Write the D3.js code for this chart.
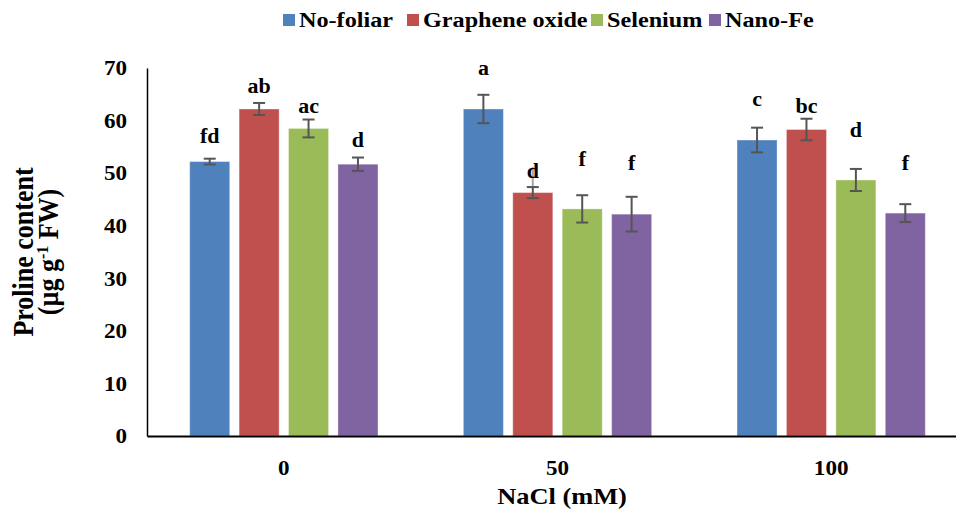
<!DOCTYPE html>
<html>
<head>
<meta charset="utf-8">
<script src="https://cdn.jsdelivr.net/npm/d3@7"></script>
<style>
  html, body { margin: 0; padding: 0; background: #fff; }
  svg { display: block; font-family: "Liberation Serif", "Times New Roman", serif; font-weight: bold; }
</style>
</head>
<body>
<svg id="chart" width="956" height="509"></svg>
<script>
// NaCl levels (mM) on the x axis
const groups = ["0", "50", "100"];
const seriesNames = ["No-foliar", "Graphene oxide", "Selenium", "Nano-Fe"];

// Proline content (µg g-1 FW), one array per foliar treatment
const noFoliar      = [52.2, 62.2, 56.3];
const grapheneOxide = [62.2, 46.3, 58.3];
const selenium      = [58.5, 43.2, 48.7];
const nanoFe        = [51.7, 42.2, 42.4];

// Standard errors
const noFoliarErr      = [0.55, 2.7, 2.35];
const grapheneOxideErr = [1.15, 1.05, 2.05];
const seleniumErr      = [1.7, 2.6, 2.1];
const nanoFeErr        = [1.27, 3.3, 1.7];

// Significance letters
const noFoliarLetters      = ["fd", "a", "c"];
const grapheneOxideLetters = ["ab", "d", "bc"];
const seleniumLetters      = ["ac", "f", "d"];
const nanoFeLetters        = ["d", "f", "f"];

// A stray faint whisker on the graphene oxide bar at 50 mM
const grapheneOxideFaintTop = [null, 51.2, null];

const yTicks = [0, 10, 20, 30, 40, 50, 60, 70];

const seriesData = [
  { name: seriesNames[0], values: noFoliar,      err: noFoliarErr,      letters: noFoliarLetters,      faint: [null, null, null] },
  { name: seriesNames[1], values: grapheneOxide, err: grapheneOxideErr, letters: grapheneOxideLetters, faint: grapheneOxideFaintTop },
  { name: seriesNames[2], values: selenium,      err: seleniumErr,      letters: seleniumLetters,      faint: [null, null, null] },
  { name: seriesNames[3], values: nanoFe,        err: nanoFeErr,        letters: nanoFeLetters,        faint: [null, null, null] }
];

// ---- layout & style ----
const colors = { "No-foliar": "#4F81BD", "Graphene oxide": "#C0504D", "Selenium": "#9BBB59", "Nano-Fe": "#8064A2" };
// letter lift above the error bar top, px
const letterLift = {
  "No-foliar": [16, 20, 22],
  "Graphene oxide": [10, 9, 6],
  "Selenium": [7, 29, 32],
  "Nano-Fe": [11, 27, 34]
};
const SX = 1.1; // slightly widened lettering

const svg = d3.select("#chart");
const plot = { left: 147, right: 968, top: 68, bottom: 436 };

function label(parent, x, y, str, size, anchor) {
  return parent.append("text")
    .attr("transform", `translate(${x},${y}) scale(${SX},1)`)
    .attr("text-anchor", anchor || "start")
    .attr("font-size", size)
    .attr("fill", "#000")
    .text(str);
}

const x0 = d3.scaleBand().domain(groups).range([plot.left, plot.right])
  .paddingInner(0.312).paddingOuter(0.156);
const x1 = d3.scaleBand().domain(seriesNames).range([0, x0.bandwidth()]).paddingInner(0.19);
const y = d3.scaleLinear().domain([0, 70]).range([plot.bottom, plot.top]);

// bars
seriesData.forEach(s => {
  groups.forEach((g, i) => {
    const bx = x0(g) + x1(s.name);
    const v = s.values[i];
    svg.append("rect")
      .attr("x", bx).attr("y", y(v))
      .attr("width", x1.bandwidth()).attr("height", y(0) - y(v))
      .attr("fill", colors[s.name])
      .attr("stroke", "#ffffff").attr("stroke-opacity", 0.35).attr("stroke-width", 1);
  });
});

// error bars and letters
const cap = 6;
seriesData.forEach(s => {
  groups.forEach((g, i) => {
    const cx = x0(g) + x1(s.name) + x1.bandwidth() / 2;
    const v = s.values[i], e = s.err[i];
    if (s.faint[i] != null) {
      svg.append("line")
        .attr("x1", cx).attr("x2", cx)
        .attr("y1", y(s.faint[i])).attr("y2", y(v + e))
        .attr("stroke", "#a6a6a6").attr("stroke-width", 2);
    }
    const eb = svg.append("g").attr("stroke", "#555555").attr("stroke-width", 2);
    eb.append("line").attr("x1", cx).attr("x2", cx).attr("y1", y(v + e)).attr("y2", y(v - e));
    eb.append("line").attr("x1", cx - cap).attr("x2", cx + cap).attr("y1", y(v + e)).attr("y2", y(v + e));
    eb.append("line").attr("x1", cx - cap).attr("x2", cx + cap).attr("y1", y(v - e)).attr("y2", y(v - e));
    label(svg, cx, y(v + e) - letterLift[s.name][i], s.letters[i], 20, "middle");
  });
});

// y axis
const yAxis = d3.axisLeft(y).tickValues(yTicks).tickSize(0).tickPadding(18.2).tickFormat(d3.format("d"));
const gy = svg.append("g").attr("transform", `translate(${plot.left},0)`).call(yAxis);
gy.select(".domain").attr("stroke", "#000").attr("stroke-width", 1.5);
gy.selectAll("text")
  .attr("font-size", 21).attr("font-family", "Liberation Serif").attr("font-weight", "bold").attr("fill", "#000")
  .attr("transform", `scale(${SX},1)`);

// x axis
const xAxis = d3.axisBottom(x0).tickSize(0).tickPadding(24);
const gx = svg.append("g").attr("transform", `translate(0,${plot.bottom})`).call(xAxis);
gx.select(".domain").attr("stroke", "#000").attr("stroke-width", 2);
gx.selectAll("text")
  .attr("font-size", 21).attr("font-family", "Liberation Serif").attr("font-weight", "bold").attr("fill", "#000")
  .attr("transform", `scale(${SX},1)`);

// axis titles
label(svg, 562, 504, "NaCl (mM)", 24, "middle");

const yTitle = svg.append("text")
  .attr("transform", `translate(33,${(plot.top + plot.bottom) / 2}) scale(${SX},1) rotate(-90)`)
  .attr("text-anchor", "middle").attr("font-size", 26);
yTitle.append("tspan").attr("x", 0).attr("y", 0).text("Proline content");
const l2 = yTitle.append("tspan").attr("x", 0).attr("y", 23);
l2.append("tspan").text("(µg g");
l2.append("tspan").attr("dy", -9).attr("font-size", 16).text("-1");
l2.append("tspan").attr("dy", 9).text(" FW)");

// legend
const legendX = [283, 407, 591, 709];
const legend = svg.append("g");
seriesNames.forEach((n, i) => {
  legend.append("rect").attr("x", legendX[i]).attr("y", 14).attr("width", 12).attr("height", 12).attr("fill", colors[n]);
  label(legend, legendX[i] + 16, 27, n, 22, "start");
});
</script>
</body>
</html>
